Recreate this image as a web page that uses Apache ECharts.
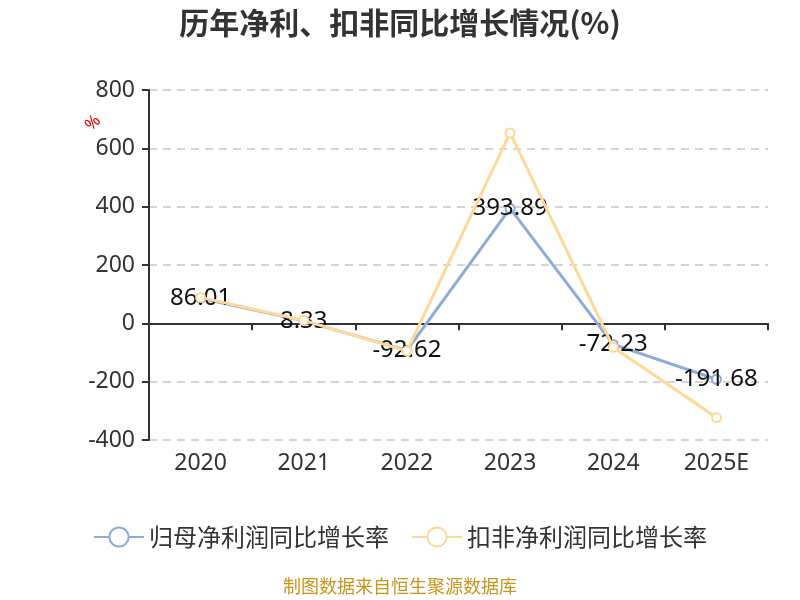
<!DOCTYPE html>
<html><head><meta charset="utf-8">
<script src="https://cdn.jsdelivr.net/npm/echarts@6/dist/echarts.min.js"></script>
<style>html,body{margin:0;padding:0;background:#fff}#c{width:800px;height:600px}</style>
</head><body><div id="c"></div>
<script>
const categories = ['2020','2021','2022','2023','2024','2025E'];
const netProfitGrowth = [86.01, 8.33, -92.62, 393.89, -72.23, -191.68];
const deductedGrowth = [89, 10, -95, 653, -82, -323];
const yTicks = {min: -400, max: 800, interval: 200};
const seriesNames = ['归母净利润同比增长率', '扣非净利润同比增长率'];

const FONT = '"Noto Sans", "Noto Sans CJK SC", sans-serif';
const chart = echarts.init(document.getElementById('c'));
chart.setOption({
  animation: false,
  title: {text: '历年净利、扣非同比增长情况(%)', left: 'center', top: 3,
    textStyle: {fontSize: 30, fontWeight: 'bold', color: '#333', fontFamily: '"Noto Sans CJK SC", sans-serif'}},
  grid: {left: 149, right: 32, top: 90, bottom: 160},
  legend: {bottom: 46, itemWidth: 50, itemHeight: 24, itemGap: 22,
    textStyle: {fontSize: 24, color: '#333', fontFamily: '"Noto Sans CJK SC", sans-serif'},
    data: seriesNames},
  graphic: [
    {type: 'text', left: 'center', top: 577, style: {text: '制图数据来自恒生聚源数据库', fill: '#c9951c', fontSize: 18, fontFamily: '"Noto Sans CJK SC", sans-serif'}},
    {type: 'text', x: 82, y: 122, rotation: Math.PI/4, style: {text: '%', fill: '#e00', fontSize: 17, fontFamily: FONT}}
  ],
  xAxis: {type: 'category', data: categories, boundaryGap: true,
    axisLine: {onZero: true, lineStyle: {color: '#333', width: 2}},
    axisTick: {show: true, length: 7, lineStyle: {color: '#333', width: 2}},
    axisLabel: {fontSize: 23, color: '#333', fontFamily: FONT, margin: 12}},
  yAxis: {type: 'value', min: yTicks.min, max: yTicks.max, interval: yTicks.interval,
    axisLine: {show: true, lineStyle: {color: '#333', width: 2}},
    axisTick: {show: true, length: 7, lineStyle: {color: '#333', width: 2}},
    axisLabel: {fontSize: 23, color: '#333', fontFamily: FONT, margin: 14},
    splitLine: {lineStyle: {type: [8, 6], color: '#c8c8c8', width: 1.5}}},
  series: [
    {name: seriesNames[0], type: 'line', data: netProfitGrowth, symbol: 'emptyCircle', symbolSize: 9,
      itemStyle: {color: '#8cacd9'}, lineStyle: {width: 3, color: '#8cacd9'},
      label: {show: true, position: 'inside', fontSize: 24, color: '#111', fontFamily: FONT}, z: 2},
    {name: seriesNames[1], type: 'line', data: deductedGrowth, symbol: 'emptyCircle', symbolSize: 9,
      itemStyle: {color: '#fdd899'}, lineStyle: {width: 3, color: '#fdd899'}, z: 3}
  ]
});
</script></body></html>
